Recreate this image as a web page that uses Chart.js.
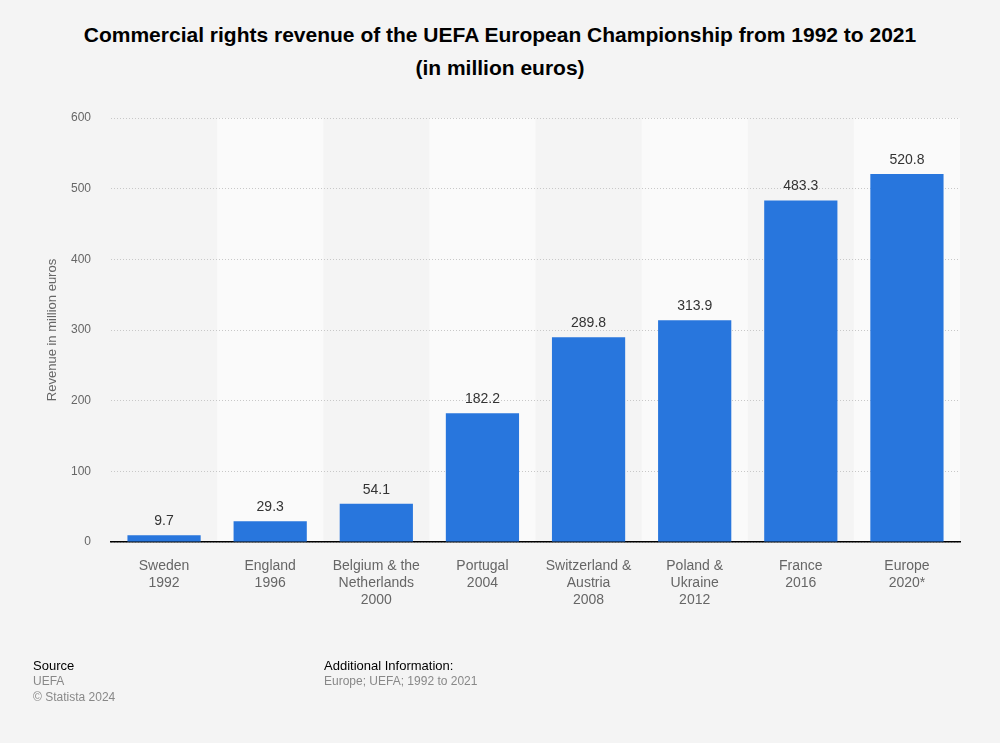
<!DOCTYPE html>
<html>
<head>
<meta charset="utf-8">
<script src="https://cdn.jsdelivr.net/npm/chart.js@4/dist/chart.umd.min.js"></script>
<style>
  body { margin: 0; background: #f4f4f4; font-family: "Liberation Sans", Arial, sans-serif; }
  #wrap { position: relative; width: 1000px; height: 743px; }
  #chart { position: absolute; left: 0; top: 0; }
  .title { position: absolute; left: 0; width: 1000px; top: 18px; text-align: center; font-weight: bold; font-size: 21px; line-height: 33px; color: #000; }
  .foot { position: absolute; font-size: 13px; line-height: 15px; color: #000; }
  .foot span { color: #888; font-size: 12px; }
</style>
</head>
<body>
<div id="wrap">
  <div class="title">Commercial rights revenue of the UEFA European Championship from 1992 to 2021<br>(in million euros)</div>
  <canvas id="chart" width="1000" height="743"></canvas>
  <div class="foot" style="left:33px; top:658px;">Source<br><span>UEFA</span><br><span>© Statista 2024</span></div>
  <div class="foot" style="left:324px; top:658px;">Additional Information:<br><span>Europe; UEFA; 1992 to 2021</span></div>
</div>
<script>
var hosts = [
  ['Sweden', '1992'],
  ['England', '1996'],
  ['Belgium & the', 'Netherlands', '2000'],
  ['Portugal', '2004'],
  ['Switzerland &', 'Austria', '2008'],
  ['Poland &', 'Ukraine', '2012'],
  ['France', '2016'],
  ['Europe', '2020*']
];
var revenue = [9.7, 29.3, 54.1, 182.2, 289.8, 313.9, 483.3, 520.8];
var yTicks = [0, 100, 200, 300, 400, 500, 600];

// lighter stripes behind every second category
var bandPlugin = {
  id: 'bands',
  beforeDraw: function(chart) {
    var ctx = chart.ctx, x = chart.scales.x, area = chart.chartArea;
    var w = (area.right - area.left) / hosts.length;
    ctx.save();
    ctx.fillStyle = '#fafafa';
    for (var i = 1; i < hosts.length; i += 2) {
      var c = x.getPixelForValue(i);
      ctx.fillRect(c - w / 2, area.top, w, area.bottom - area.top);
    }
    ctx.restore();
  }
};

var valuePlugin = {
  id: 'values',
  afterDatasetsDraw: function(chart) {
    var ctx = chart.ctx;
    var meta = chart.getDatasetMeta(0);
    ctx.save();
    ctx.font = '14px "Liberation Sans", Arial, sans-serif';
    ctx.fillStyle = '#333';
    ctx.textAlign = 'center';
    ctx.textBaseline = 'bottom';
    meta.data.forEach(function(bar, i) {
      ctx.fillText(revenue[i].toFixed(1), bar.x, bar.y - 7);
    });
    ctx.restore();
  }
};

const el = document.getElementById('chart');
let revenueChart = new Chart(el, {
  type: 'bar',
  data: {
    labels: hosts,
    datasets: [{
      data: revenue,
      backgroundColor: '#2876dd',
      barPercentage: 0.69,
      categoryPercentage: 1.0
    }]
  },
  plugins: [bandPlugin, valuePlugin],
  options: {
    responsive: false,
    animation: false,
    layout: { padding: { left: 0, right: 40, top: 118, bottom: 131 } },
    plugins: { legend: { display: false }, tooltip: { enabled: false } },
    scales: {
      x: {
        grid: { display: false },
        border: { display: true, color: '#000', width: 1.5 },
        ticks: {
          color: '#666',
          font: { size: 14, family: '"Liberation Sans", Arial, sans-serif' },
          padding: 8,
          maxRotation: 0,
          autoSkip: false
        },
        afterFit: function(s) { s.height = 70; }
      },
      y: {
        min: 0,
        max: 600,
        afterBuildTicks: function(s) { s.ticks = yTicks.map(function(v) { return { value: v }; }); },
        grid: { color: '#c8c8c8', drawTicks: false, lineWidth: 1 },
        border: { display: false, dash: [1, 2] },
        ticks: {
          color: '#666',
          font: { size: 12, family: '"Liberation Sans", Arial, sans-serif' },
          padding: 20
        },
        title: {
          display: true,
          text: 'Revenue in million euros',
          color: '#666',
          font: { size: 13, family: '"Liberation Sans", Arial, sans-serif' },
          padding: { top: 45, bottom: 0 }
        },
        afterFit: function(s) { s.width = 111; }
      }
    }
  }
});
</script>
</body>
</html>
